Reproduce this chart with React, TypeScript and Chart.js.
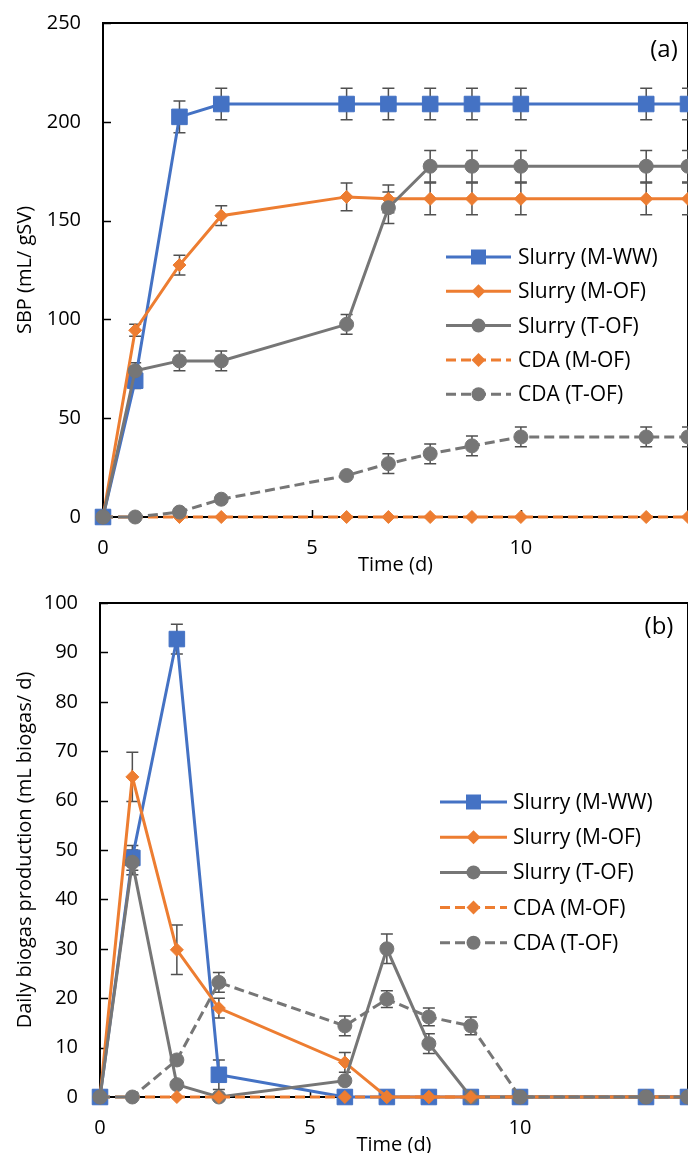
import React, { useEffect, useRef } from "react";
import { Chart, registerables } from "chart.js";

Chart.register(...registerables);

// ---------- data ----------
const DAYS = [0, 0.77, 1.83, 2.83, 5.83, 6.83, 7.83, 8.83, 10, 13, 14];
const SERIES = ["Slurry (M-WW)", "Slurry (M-OF)", "Slurry (T-OF)", "CDA (M-OF)", "CDA (T-OF)"];
const COLORS = ["#4472C4", "#ED7D31", "#767676", "#ED7D31", "#767676"];
const SHAPES = ["rect", "rectRot", "circle", "rectRot", "circle"];
const RADII = [11, 6.5, 7, 6.5, 7];
const DASHED = [false, false, false, true, true];

// (a) specific biogas production, mL/gSV
const SBP_SLURRY_MWW = [0, 69, 202.5, 209, 209, 209, 209, 209, 209, 209, 209];
const SBP_SLURRY_MOF = [0, 94.5, 127.5, 152.5, 162, 161, 161, 161, 161, 161, 161];
const SBP_SLURRY_TOF = [0, 74, 79, 79, 97.5, 156.5, 177.5, 177.5, 177.5, 177.5, 177.5];
const SBP_CDA_MOF = [0, 0, 0, 0, 0, 0, 0, 0, 0, 0, 0];
const SBP_CDA_TOF = [0, 0, 2.5, 9, 21, 27, 32, 36, 40.5, 40.5, 40.5];

const SBP_ERR_SLURRY_MWW = [0, 4, 8, 8, 8, 8, 8, 8, 8, 8, 8];
const SBP_ERR_SLURRY_MOF = [0, 3, 5, 5, 7, 7, 8, 8, 8, 8, 8];
const SBP_ERR_SLURRY_TOF = [0, 4, 5, 5, 5, 8, 8, 8, 8, 8, 8];
const SBP_ERR_CDA_MOF = [0, 0, 0, 0, 0, 0, 0, 0, 0, 0, 0];
const SBP_ERR_CDA_TOF = [0, 0, 0, 0, 0, 5, 5, 5, 5, 5, 5];

// (b) daily biogas production, mL biogas/d
const DAILY_SLURRY_MWW = [0, 48.4, 92.7, 4.5, 0, 0, 0, 0, 0, 0, 0];
const DAILY_SLURRY_MOF = [0, 64.8, 29.8, 18, 7, 0, 0, 0, 0, 0, 0];
const DAILY_SLURRY_TOF = [0, 47.5, 2.5, 0, 3.3, 30, 10.8, 0, 0, 0, 0];
const DAILY_CDA_MOF = [0, 0, 0, 0, 0, 0, 0, 0, 0, 0, 0];
const DAILY_CDA_TOF = [0, 0, 7.5, 23.2, 14.4, 19.8, 16.2, 14.4, 0, 0, 0];

const DAILY_ERR_SLURRY_MWW = [0, 2.5, 3, 3, 0, 0, 0, 0, 0, 0, 0];
const DAILY_ERR_SLURRY_MOF = [0, 5, 5, 2, 2, 0, 0, 0, 0, 0, 0];
const DAILY_ERR_SLURRY_TOF = [0, 2.5, 0, 0, 0, 3, 2, 0, 0, 0, 0];
const DAILY_ERR_CDA_MOF = [0, 0, 0, 0, 0, 0, 0, 0, 0, 0, 0];
const DAILY_ERR_CDA_TOF = [0, 0, 0, 2, 2, 1.7, 1.8, 1.8, 0, 0, 0];

const X_TITLE = "Time (d)";
const FONT = "'Open Sans', 'DejaVu Sans', sans-serif";

// ---------- plugin: frame, inside ticks, error bars, legend, panel label ----------
const decorPlugin = {
  id: "decor",
  beforeDatasetsDraw(chart: any, _args: any, opts: any) {
    const { ctx, chartArea: a, scales } = chart;
    ctx.save();
    ctx.strokeStyle = "#000";
    ctx.lineWidth = 2;
    ctx.beginPath();
    ctx.moveTo(a.left - 1, a.top);
    ctx.lineTo(a.right, a.top);
    ctx.lineTo(a.right, a.bottom);
    ctx.stroke();
    ctx.lineWidth = 1.5;
    ctx.beginPath();
    for (const t of scales.y.ticks) {
      const py = Math.round(scales.y.getPixelForValue(t.value)) + 0.5;
      ctx.moveTo(a.left, py);
      ctx.lineTo(a.left + 8, py);
    }
    for (const t of scales.x.ticks) {
      if (t.value === 0) continue;
      const px = Math.round(scales.x.getPixelForValue(t.value)) + 0.5;
      ctx.moveTo(px, a.bottom);
      ctx.lineTo(px, a.bottom - 7);
    }
    ctx.stroke();
    // error bars
    ctx.strokeStyle = "#505050";
    ctx.lineWidth = 1.5;
    const errs: number[][] = opts.errors;
    chart.data.datasets.forEach((ds: any, di: number) => {
      const e = errs[di];
      ds.data.forEach((p: any, i: number) => {
        if (!e[i]) return;
        const px = scales.x.getPixelForValue(p.x);
        const y1 = scales.y.getPixelForValue(p.y + e[i]);
        const y2 = scales.y.getPixelForValue(Math.max(0, p.y - e[i]));
        ctx.beginPath();
        ctx.moveTo(px, y1);
        ctx.lineTo(px, y2);
        ctx.moveTo(px - 6, y1);
        ctx.lineTo(px + 6, y1);
        ctx.moveTo(px - 6, y2);
        ctx.lineTo(px + 6, y2);
        ctx.stroke();
      });
    });
    ctx.restore();
  },
  afterDraw(chart: any, _args: any, opts: any) {
    const { ctx } = chart;
    const L = opts.legend;
    ctx.save();
    SERIES.forEach((name, i) => {
      const y = L.y0 + i * L.dy;
      ctx.strokeStyle = COLORS[i];
      ctx.fillStyle = COLORS[i];
      ctx.lineWidth = 3;
      ctx.setLineDash(DASHED[i] ? [10, 5] : []);
      ctx.beginPath();
      ctx.moveTo(L.x1, y);
      ctx.lineTo(L.x2, y);
      ctx.stroke();
      ctx.setLineDash([]);
      const mx = (L.x1 + L.x2) / 2;
      ctx.beginPath();
      if (SHAPES[i] === "rect") {
        ctx.rect(mx - 7.5, y - 7.5, 15, 15);
      } else if (SHAPES[i] === "circle") {
        ctx.arc(mx, y, 7, 0, Math.PI * 2);
      } else {
        ctx.moveTo(mx - 7, y);
        ctx.lineTo(mx, y - 7);
        ctx.lineTo(mx + 7, y);
        ctx.lineTo(mx, y + 7);
        ctx.closePath();
      }
      ctx.fill();
      ctx.fillStyle = "#000";
      ctx.font = `21px ${FONT}`;
      ctx.textAlign = "left";
      ctx.textBaseline = "middle";
      ctx.fillText(name, L.tx, y + 1);
    });
    ctx.font = `24px ${FONT}`;
    ctx.textAlign = "center";
    ctx.textBaseline = "middle";
    ctx.fillStyle = "#000";
    ctx.fillText(opts.label.text, opts.label.x, opts.label.y);
    ctx.restore();
  },
};

function makeConfig(values: number[][], errors: number[][], yMax: number, yStep: number, yTitle: string, yWidth: number, legend: any, label: any): any {
  return {
    type: "line",
    data: {
      datasets: values.map((vals, i) => ({
        label: SERIES[i],
        data: vals.map((v, j) => ({ x: DAYS[j], y: v })),
        borderColor: COLORS[i],
        backgroundColor: COLORS[i],
        borderWidth: 3,
        borderDash: DASHED[i] ? [10, 5] : [],
        pointStyle: SHAPES[i],
        pointRadius: RADII[i],
        pointBorderWidth: 1,
        pointBackgroundColor: COLORS[i],
        pointBorderColor: COLORS[i],
        tension: 0,
        clip: false,
        order: values.length - 1 - i,
      })),
    },
    options: {
      responsive: false,
      animation: false,
      events: [],
      layout: { padding: { top: 23, left: 0, right: 8, bottom: 0 } },
      plugins: {
        legend: { display: false },
        tooltip: { enabled: false },
        decor: { errors, legend, label },
      },
      scales: {
        x: {
          type: "linear",
          min: 0,
          max: 14,
          grid: { display: false, drawTicks: false },
          border: { display: true, color: "#000", width: 2 },
          ticks: { stepSize: 5, includeBounds: false, padding: 19, color: "#000", font: { family: FONT, size: 20 }, maxRotation: 0 },
          title: { display: true, text: X_TITLE, color: "#000", font: { family: FONT, size: 20 }, padding: { top: 0, bottom: 3 } },
          afterFit: (s: any) => { s.height = 63; s.paddingLeft = 0; s.paddingRight = 0; },
        },
        y: {
          type: "linear",
          min: 0,
          max: yMax,
          grid: { display: false, drawTicks: false },
          border: { display: true, color: "#000", width: 2 },
          ticks: { stepSize: yStep, padding: 22, color: "#000", font: { family: FONT, size: 20 } },
          title: { display: true, text: yTitle, color: "#000", font: { family: FONT, size: 20 }, padding: { top: 13, bottom: 0 } },
          afterFit: (s: any) => { s.width = yWidth; s.paddingTop = 0; s.paddingBottom = 0; },
        },
      },
    },
    plugins: [decorPlugin],
  };
}

export default function App() {
  const refA = useRef<HTMLCanvasElement>(null);
  const refB = useRef<HTMLCanvasElement>(null);
  useEffect(() => {
    const chartA = new Chart(
      refA.current as HTMLCanvasElement,
      makeConfig(
        [SBP_SLURRY_MWW, SBP_SLURRY_MOF, SBP_SLURRY_TOF, SBP_CDA_MOF, SBP_CDA_TOF],
        [SBP_ERR_SLURRY_MWW, SBP_ERR_SLURRY_MOF, SBP_ERR_SLURRY_TOF, SBP_ERR_CDA_MOF, SBP_ERR_CDA_TOF],
        250, 50, "SBP (mL/ gSV)", 103,
        { x1: 446, x2: 511, tx: 518, y0: 257, dy: 34.3 },
        { text: "(a)", x: 664, y: 50 }
      )
    );
    const chartB = new Chart(
      refB.current as HTMLCanvasElement,
      makeConfig(
        [DAILY_SLURRY_MWW, DAILY_SLURRY_MOF, DAILY_SLURRY_TOF, DAILY_CDA_MOF, DAILY_CDA_TOF],
        [DAILY_ERR_SLURRY_MWW, DAILY_ERR_SLURRY_MOF, DAILY_ERR_SLURRY_TOF, DAILY_ERR_CDA_MOF, DAILY_ERR_CDA_TOF],
        100, 10, "Daily biogas production (mL biogas/ d)", 100,
        { x1: 440, x2: 507, tx: 513, y0: 222, dy: 35.2 },
        { text: "(b)", x: 659, y: 47 }
      )
    );
    return () => {
      chartA.destroy();
      chartB.destroy();
    };
  }, []);
  return (
    <div style={{ position: "fixed", left: 0, top: 0, width: 688, height: 1153, overflow: "hidden", background: "#fff" }}>
      <canvas ref={refA} width={700} height={580} style={{ position: "absolute", left: 0, top: 0 }} />
      <canvas ref={refB} width={700} height={580} style={{ position: "absolute", left: 0, top: 580 }} />
    </div>
  );
}
